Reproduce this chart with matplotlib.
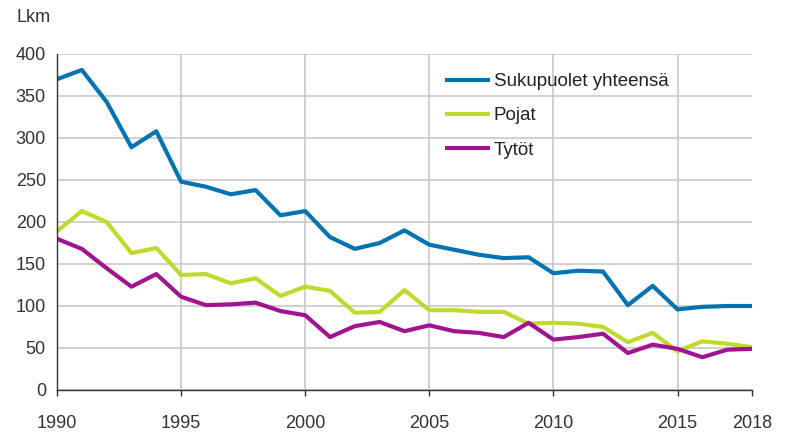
import matplotlib
matplotlib.use("Agg")
import matplotlib.pyplot as plt

years = list(range(1990, 2019))
total = [370, 381, 343, 289, 308, 248, 242, 233, 238, 208, 213, 182, 168, 175, 190,
         173, 167, 161, 157, 158, 139, 142, 141, 101, 124, 96, 99, 100, 100]
boys = [189, 213, 200, 163, 169, 137, 138, 127, 133, 112, 123, 118, 92, 93, 119,
        95, 95, 93, 93, 79, 80, 79, 75, 57, 68, 46, 58, 55, 51]
girls = [180, 168, 145, 123, 138, 111, 101, 102, 104, 94, 89, 63, 76, 81, 70,
         77, 70, 68, 63, 80, 60, 63, 67, 44, 54, 49, 39, 48, 49]
labels = ["Sukupuolet yhteensä", "Pojat", "Tytöt"]
xticks = [1990, 1995, 2000, 2005, 2010, 2015, 2018]
yticks = [0, 50, 100, 150, 200, 250, 300, 350, 400]

plt.rcParams['font.family'] = ['Liberation Sans', 'DejaVu Sans']

fig = plt.figure(figsize=(7.85, 4.32), dpi=100)
ax = fig.add_axes([57/785, 1-390/432, (752-57)/785, (390-54)/432])

colors = ["#0073B0", "#C3D82E", "#A0158F"]
for vals, lab, c in zip([total, boys, girls], labels, colors):
    ax.plot(years, vals, color=c, lw=3.0, label=lab, solid_capstyle='butt')

ax.set_xlim(1990, 2018)
ax.set_ylim(0, 400)
ax.set_xticks(xticks)
ax.set_yticks(yticks)
ax.tick_params(axis='both', labelsize=13, colors='#333333')
ax.tick_params(axis='y', length=0, pad=8)
ax.tick_params(axis='x', length=4, width=1, color='#333333', pad=14, direction='out')

ax.grid(True, color='#c8c8c8', lw=1.2)
ax.set_axisbelow(True)
xg = ax.get_xgridlines()
xg[0].set_visible(False)
xg[-1].set_visible(False)

for s in ['top', 'right']:
    ax.spines[s].set_visible(False)
ax.spines['left'].set_color('#333333')
ax.spines['bottom'].set_color('#333333')
ax.spines['left'].set_linewidth(1.0)
ax.spines['bottom'].set_linewidth(1.0)

leg = ax.legend(loc='upper left', bbox_to_anchor=((445-57)/695, (390-73)/336),
                frameon=False, fontsize=13.5, handlelength=2.4, handletextpad=0.2,
                labelspacing=0.92, borderaxespad=0, borderpad=0)
for t in leg.get_texts():
    t.set_color('#222222')

fig.text(16/785, 1-18/432, "Lkm", fontsize=13, color='#333333', va='center', ha='left')

fig.savefig("out.png", dpi=100)
